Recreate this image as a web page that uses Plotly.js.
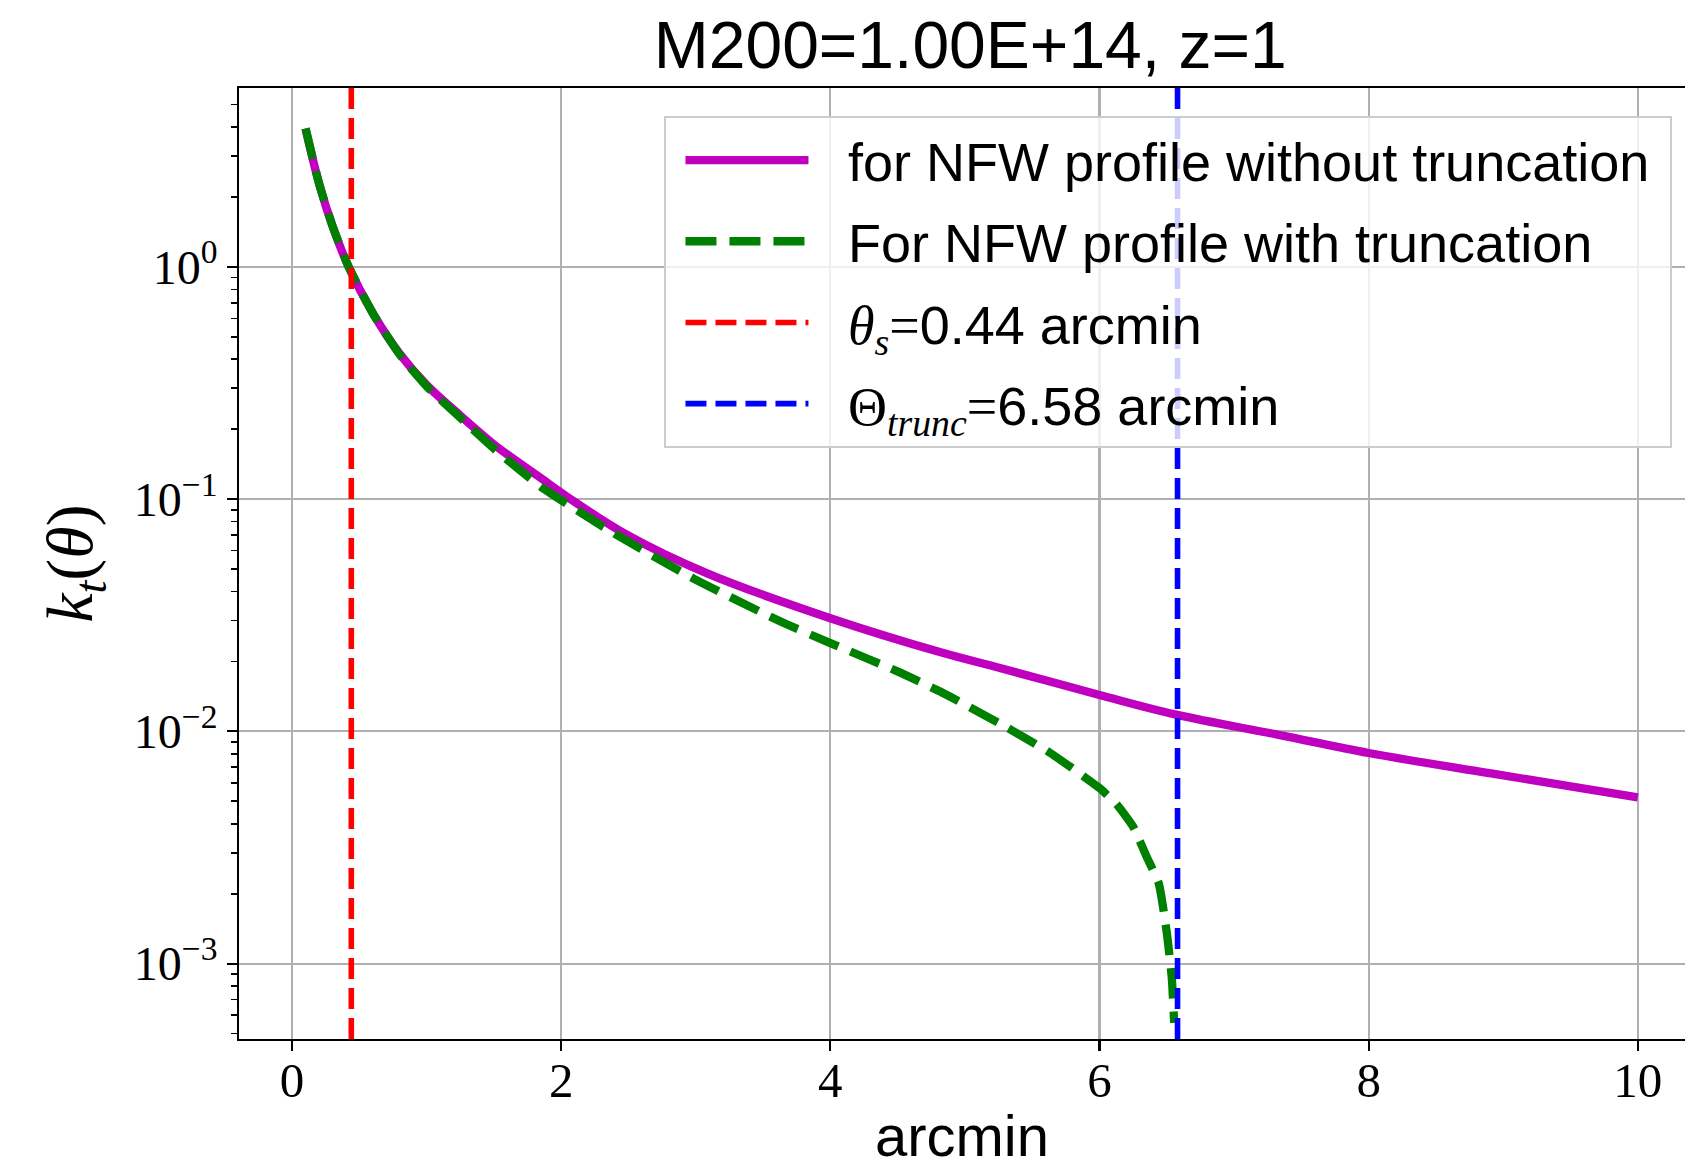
<!DOCTYPE html>
<html>
<head>
<meta charset="utf-8">
<script src="https://cdn.plot.ly/plotly-3.0.1.min.js"></script>
<style>
  html, body { margin: 0; padding: 0; background: #ffffff; }
  #chart { width: 1685px; height: 1168px; }
</style>
</head>
<body>
<div id="chart"></div>
<script>
// ---- data ----
const thetaNoTrunc = [0.1, 0.2, 0.3, 0.42, 0.6, 0.8, 1.0, 1.25, 1.5, 1.85, 2.09, 2.49, 3.08, 4.0, 4.82, 5.26, 6.0, 6.57, 7.34, 8.0, 8.91, 10.0];
const kappaNoTrunc = [3.94, 2.29, 1.50, 1.0, 0.632, 0.422, 0.310, 0.229, 0.172, 0.123, 0.0982, 0.0701, 0.048, 0.0307, 0.0219, 0.01875, 0.01435, 0.0118, 0.00964, 0.00807, 0.00659, 0.0052];

const thetaTrunc = [0.1, 0.2, 0.3, 0.42, 0.6, 0.8, 1.0, 1.25, 1.5, 1.85, 2.39, 2.98, 3.63, 4.0, 4.52, 4.82, 5.26, 5.63, 6.0, 6.13, 6.25, 6.35, 6.44, 6.5, 6.537, 6.555];
const kappaTrunc = [3.94, 2.29, 1.50, 1.0, 0.630, 0.419, 0.306, 0.224, 0.165, 0.113, 0.0713, 0.0456, 0.0297, 0.024, 0.0179, 0.0148, 0.0108, 0.0081, 0.0057, 0.00483, 0.00389, 0.00289, 0.00222, 0.00136, 0.00087, 0.000556];

const thetaS = 0.44;        // arcmin
const thetaTruncVal = 6.58; // arcmin

const titleText = 'M200=1.00E+14, z=1';
const xTickVals = [0, 2, 4, 6, 8, 10];
const xTickText = ['0', '2', '4', '6', '8', '10'];
const yTickVals = [1e-3, 1e-2, 1e-1, 1];
const yTickText = ['10<sup>\u22123</sup>', '10<sup>\u22122</sup>', '10<sup>\u22121</sup>', '10<sup>0</sup>'];
const yMinorVals = [];
[1e-4, 1e-3, 1e-2, 1e-1, 1].forEach(d => { for (let k = 2; k <= 9; k++) yMinorVals.push(k * d); });

const xRange = [-0.3945, 10.351];
const yRangeLog = [-3.3245, 0.770];

// ---- styles ----
const sans = 'Liberation Sans, Arial, sans-serif';
const serif = 'Liberation Serif, Times New Roman, serif';
const pad = '\u00a0\u00a0\u200a';

const traces = [
  {
    x: thetaNoTrunc, y: kappaNoTrunc, type: 'scatter', mode: 'lines',
    name: pad + 'for NFW profile without truncation\u00a0', legendgroup: 'a',
    line: { color: '#bf00bf', width: 8.3, shape: 'spline', smoothing: 1.0 }
  },
  {
    x: thetaTrunc, y: kappaTrunc, type: 'scatter', mode: 'lines',
    name: pad + 'For NFW profile with truncation', legendgroup: 'b',
    line: { color: '#008000', width: 8.3, dash: '31px,13px', shape: 'spline', smoothing: 0.5 }
  },
  {
    x: [thetaS, thetaS], y: [Math.pow(10, yRangeLog[0]), Math.pow(10, yRangeLog[1])],
    type: 'scatter', mode: 'lines', legendgroup: 'c',
    name: pad + '<span style="font-family:Liberation Serif"><i>\u03b8</i><sub><i>s</i></sub>=</span>' + thetaS.toFixed(2) + ' arcmin',
    line: { color: '#ff0000', width: 5.6, dash: '21px,9px' }
  },
  {
    x: [thetaTruncVal, thetaTruncVal], y: [Math.pow(10, yRangeLog[0]), Math.pow(10, yRangeLog[1])],
    type: 'scatter', mode: 'lines', legendgroup: 'd',
    name: pad + '<span style="font-family:Liberation Serif">\u0398<sub><i>trunc</i></sub>=</span>' + thetaTruncVal.toFixed(2) + ' arcmin',
    line: { color: '#0000ff', width: 5.6, dash: '21px,9px' }
  }
];

const layout = {
  width: 1685, height: 1168,
  margin: { l: 238.6, r: 0, t: 87.7, b: 128.7, pad: 0 },
  paper_bgcolor: '#ffffff', plot_bgcolor: '#ffffff',
  showlegend: true,
  title: {
    text: titleText,
    font: { family: sans, size: 66, color: '#000000' },
    xref: 'paper', x: 0.5057, xanchor: 'center',
    yref: 'container', y: 1 - 22 / 1168, yanchor: 'top'
  },
  xaxis: {
    range: xRange, tickmode: 'array', tickvals: xTickVals, ticktext: xTickText,
    ticks: 'outside', ticklen: 9.7, tickwidth: 2.2, tickcolor: '#000000',
    ticklabelstandoff: -13,
    showline: true, linecolor: '#000000', linewidth: 2.2, mirror: true,
    showgrid: true, gridcolor: '#b0b0b0', gridwidth: 2.2, zeroline: false,
    tickfont: { family: serif, size: 49, color: '#000000' },
    title: { text: 'arcmin', font: { family: sans, size: 58, color: '#000000' }, standoff: 32 },
    automargin: false
  },
  yaxis: {
    type: 'log', range: yRangeLog, tickmode: 'array', tickvals: yTickVals, ticktext: yTickText,
    ticks: 'outside', ticklen: 9.7, tickwidth: 2.2, tickcolor: '#000000',
    minor: { tickmode: 'array', tickvals: yMinorVals, ticks: 'outside', ticklen: 5.6, tickwidth: 1.7, tickcolor: '#000000', showgrid: false },
    showline: true, linecolor: '#000000', linewidth: 2.2, mirror: false,
    showgrid: true, gridcolor: '#b0b0b0', gridwidth: 2.2, zeroline: false,
    tickfont: { family: serif, size: 48, color: '#000000' },
    title: { text: '<i>k</i><sub><i>t</i></sub>(<i>\u03b8</i>)', font: { family: serif, size: 66, color: '#000000' }, standoff: 20 },
    automargin: false
  },
  legend: {
    x: 0.2941, y: 0.9703, xanchor: 'left', yanchor: 'top',
    bgcolor: 'rgba(255,255,255,0.8)', bordercolor: '#cccccc', borderwidth: 2.2,
    font: { family: sans, size: 54, color: '#000000' },
    itemwidth: 123, indentation: 14, traceorder: 'grouped', tracegroupgap: 8
  }
};

Plotly.newPlot('chart', traces, layout, { staticPlot: true, displayModeBar: false });
</script>
</body>
</html>
